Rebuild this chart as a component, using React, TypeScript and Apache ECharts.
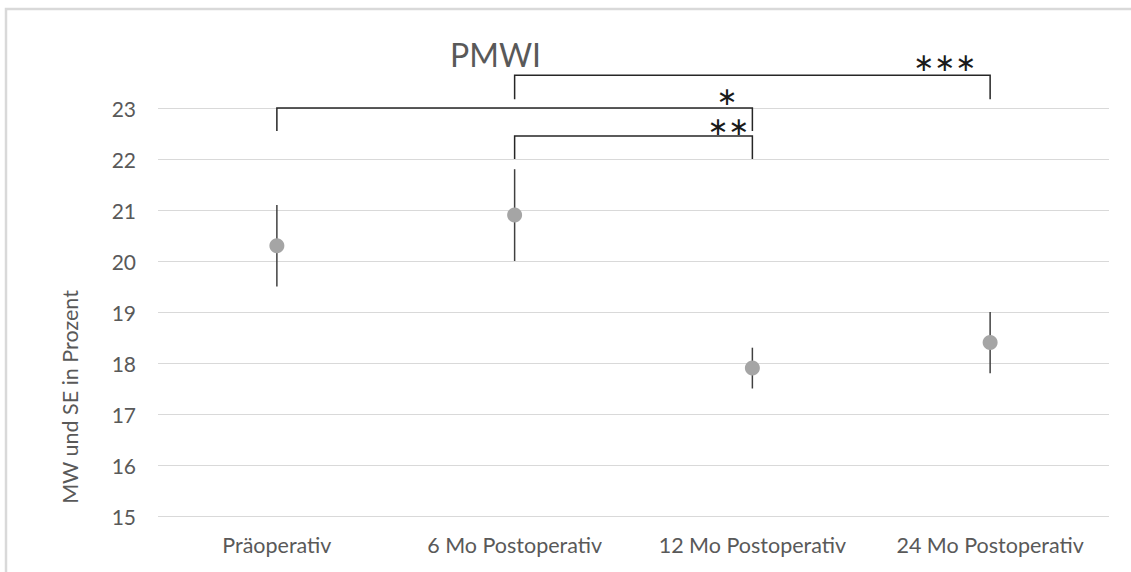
import React, { useEffect, useRef } from "react";
import * as echarts from "echarts";

const categories = ["Präoperativ", "6 Mo Postoperativ", "12 Mo Postoperativ", "24 Mo Postoperativ"];
const means = [20.3, 20.9, 17.9, 18.4];
const seLow = [19.5, 20.0, 17.5, 17.8];
const seHigh = [21.1, 21.8, 18.3, 19.0];

const yMin = 15;
const yMax = 23;
const yInterval = 1;

// significance brackets
const bracketFrom = [0, 1, 1];
const bracketTo = [2, 2, 3];
const bracketTop = [23.0, 22.45, 23.64];
const bracketLegEnd = [22.55, 22.0, 23.17];
const bracketStars = ["∗", "∗∗", "∗∗∗"];
const starValue = [23.23, 22.64, 23.9];
const starBandOffset = [-0.106, -0.1, -0.19];

const title = "PMWI";
const yName = "MW und SE in Prozent";

export default function App() {
  const ref = useRef<HTMLDivElement>(null);
  useEffect(() => {
    if (!ref.current) return;
    const chart = echarts.init(ref.current, undefined, { renderer: "svg" });
    const font = "Lato";
    const textColor = "#595959";
    chart.setOption({
      animation: false,
      backgroundColor: "#ffffff",
      title: {
        text: title,
        left: 445,
        top: 33,
        textStyle: { fontFamily: font, fontSize: 32, fontWeight: "normal", color: textColor },
      },
      grid: { left: 158, right: 22, top: 108, bottom: 56 },
      xAxis: {
        type: "category",
        data: categories,
        boundaryGap: true,
        axisLine: { show: false },
        axisTick: { show: false },
        axisLabel: { interval: 0, fontFamily: font, fontSize: 21.5, color: textColor, margin: 18 },
      },
      yAxis: {
        type: "value",
        min: yMin,
        max: yMax,
        interval: yInterval,
        axisLine: { show: false },
        axisTick: { show: false },
        axisLabel: { fontFamily: font, fontSize: 21, color: textColor, margin: 22 },
        splitLine: { lineStyle: { color: "#d9d9d9", width: 1 } },
      },
      graphic: [
        {
          type: "rect",
          shape: { x: 6, y: 9, width: 1160, height: 620 },
          style: { fill: "none", stroke: "#d9d9d9", lineWidth: 2.5 },
          silent: true,
        },
        {
          type: "text",
          x: 70,
          y: 397,
          rotation: Math.PI / 2,
          style: {
            text: yName,
            fontFamily: font,
            fontSize: 21.5,
            fill: textColor,
            align: "center",
            verticalAlign: "middle",
          },
        },
      ],
      series: [
        {
          type: "custom",
          name: "SE",
          data: categories.map((_, i) => [i, seLow[i], seHigh[i]]),
          encode: { x: 0, y: [1, 2] },
          renderItem: (params: any, api: any) => {
            const i = api.value(0);
            const lo = api.coord([i, api.value(1)]);
            const hi = api.coord([i, api.value(2)]);
            return {
              type: "line",
              shape: { x1: lo[0], y1: lo[1], x2: hi[0], y2: hi[1] },
              style: { stroke: "#404040", lineWidth: 1.5 },
            };
          },
          z: 2,
        },
        {
          type: "scatter",
          name: "MW",
          data: means,
          symbol: "circle",
          symbolSize: 15,
          itemStyle: { color: "#a5a5a5", opacity: 1 },
          z: 3,
        },
        {
          type: "custom",
          name: "Signifikanz",
          clip: false,
          data: bracketFrom.map((f, k) => [f, bracketTo[k], bracketTop[k], bracketLegEnd[k], starValue[k], k]),
          encode: { x: [0, 1], y: [2, 3] },
          renderItem: (params: any, api: any) => {
            const f = api.value(0);
            const t = api.value(1);
            const top = api.value(2);
            const leg = api.value(3);
            const sv = api.value(4);
            const k = api.value(5);
            const a = api.coord([f, top]);
            const b = api.coord([t, top]);
            const legY = api.coord([f, leg])[1];
            const starPt = api.coord([t, sv]);
            const band = api.size([1, 0])[0];
            return {
              type: "group",
              children: [
                {
                  type: "polyline",
                  shape: { points: [[a[0], legY], [a[0], a[1]], [b[0], b[1]], [b[0], legY]] },
                  style: { stroke: "#262626", lineWidth: 1.5, fill: "none" },
                },
                {
                  type: "text",
                  x: starPt[0] + starBandOffset[k] * band,
                  y: starPt[1],
                  style: {
                    text: bracketStars[k],
                    fontFamily: "DejaVu Sans",
                    fontSize: 25,
                    fill: "#1a1a1a",
                    align: "center",
                    verticalAlign: "middle",
                  },
                },
              ],
            };
          },
          z: 4,
        },
      ],
    });
    return () => chart.dispose();
  }, []);
  return (
    <div
      ref={ref}
      style={{ position: "absolute", left: 0, top: 0, width: 1131, height: 572 }}
    />
  );
}
